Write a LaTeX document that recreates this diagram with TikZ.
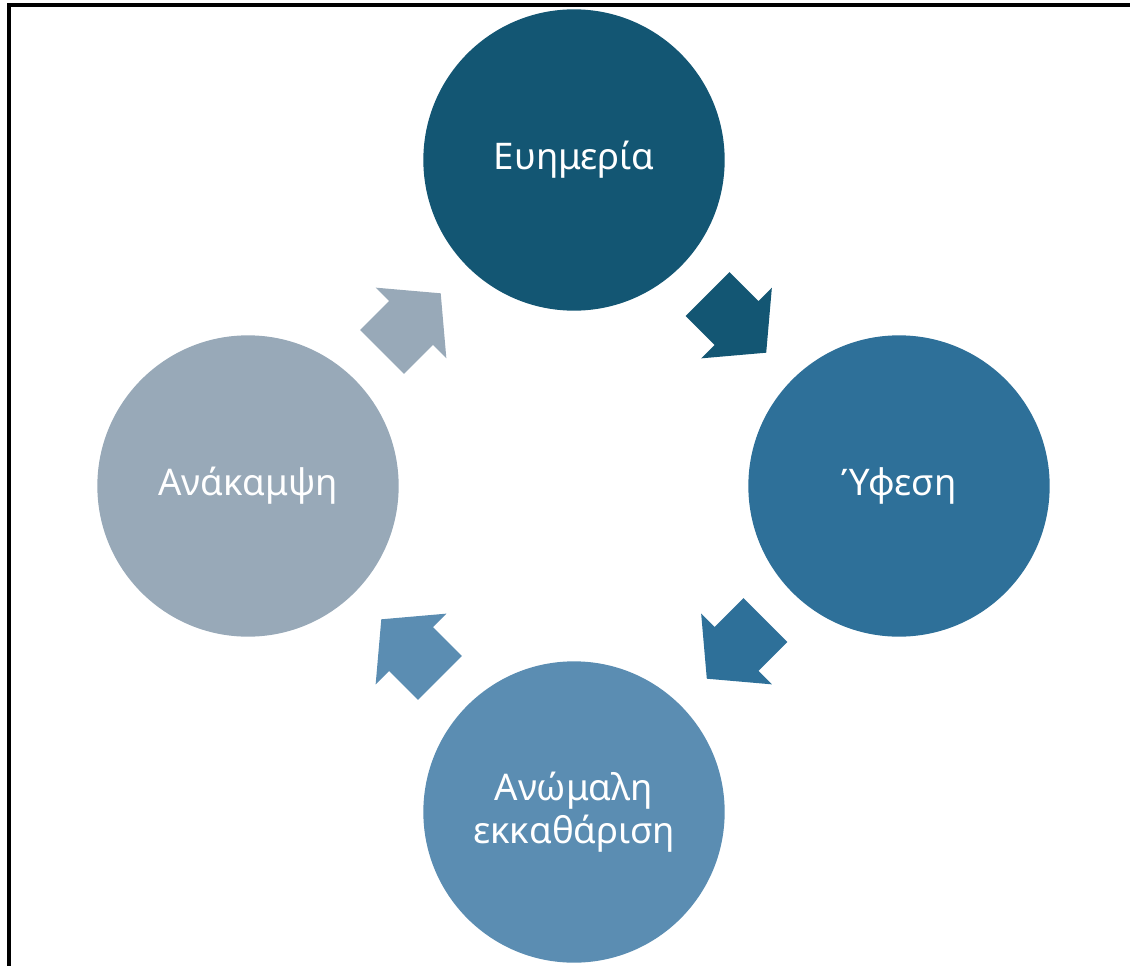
\documentclass[tikz,border=0pt]{standalone}
\usepackage{fontspec}
\setmainfont{Noto Sans}
\usetikzlibrary{calc}
\definecolor{phaseA}{HTML}{135673}
\definecolor{phaseB}{HTML}{2E7099}
\definecolor{phaseC}{HTML}{5B8DB2}
\definecolor{phaseD}{HTML}{98A9B8}
\tikzset{
  phase/.style={circle, minimum size=226pt, inner sep=0pt, text=white,
    font=\fontsize{27.5}{32}\selectfont, align=center},
  blockarrow/.pic={
    \fill (-41,-31) -- (0,-31) -- (0,-50) -- (42,0) -- (0,50) -- (0,31) -- (-41,31) -- cycle;
  }
}
\begin{document}
\begin{tikzpicture}[x=0.75pt, y=-0.75pt]
\useasboundingbox (0,0) rectangle (1130,966);
% Frame
\draw[line width=2.5pt] (9,966) -- (9,5) -- (1130,5);
% Phases
\node[phase, fill=phaseA] (prosperity) at (574,160) {Ευημερία};
\node[phase, fill=phaseB] (recession) at (899,486) {Ύφεση};
\node[phase, fill=phaseC] (depression) at (574,812) {Ανώμαλη\\εκκαθάριση};
\node[phase, fill=phaseD] (recovery) at (248,486) {Ανάκαμψη};
% Arrows between phases
\pic[fill=phaseA, rotate=-45] at ($(prosperity)!0.5!(recession)$) {blockarrow};
\pic[fill=phaseB, rotate=-135] at ($(recession)!0.5!(depression)$) {blockarrow};
\pic[fill=phaseC, rotate=135] at ($(depression)!0.5!(recovery)$) {blockarrow};
\pic[fill=phaseD, rotate=45] at ($(recovery)!0.5!(prosperity)$) {blockarrow};
\end{tikzpicture}
\end{document}
